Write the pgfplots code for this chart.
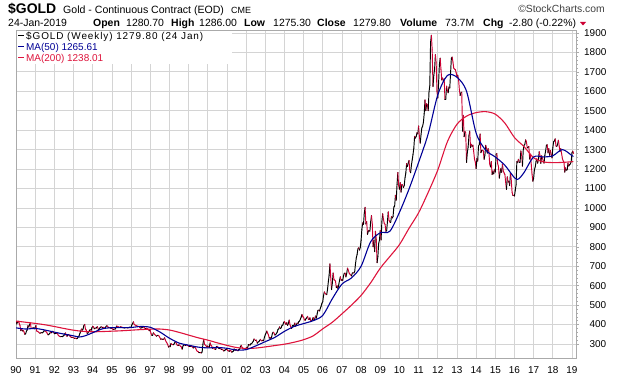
\documentclass[border=0pt]{standalone}
\usepackage{pgfplots}
\pgfplotsset{compat=1.18}
\usepackage{pgfplotstable}
\usepackage{fontspec}
\setmainfont{Liberation Sans}
\newfontfamily\legfont[LetterSpace=9]{Liberation Sans}
\definecolor{pricered}{RGB}{204,0,51}
\definecolor{mared}{RGB}{222,20,60}
\definecolor{manavy}{RGB}{0,0,150}
\definecolor{gridc}{RGB}{212,212,212}
\definecolor{axisc}{RGB}{170,170,170}

% semi-monthly gold closes, 1990.0 ... 2019 (24 values per year)
\pgfplotstableread[row sep=\\]{
p\\ 401\\
415\\ 408\\ 417\\ 407\\ 395\\ 368\\ 375\\ 367\\ 370\\ 363\\ 350\\ 352\\ 365\\ 372\\ 395\\ 387\\ 400\\ 408\\ 380\\ 380\\ 382\\ 384\\ 378\\ 386\\
395\\ 366\\ 365\\ 362\\ 358\\ 355\\ 358\\ 357\\ 357\\ 361\\ 367\\ 368\\ 365\\ 362\\ 356\\ 347\\ 349\\ 354\\ 359\\ 357\\ 361\\ 366\\ 361\\ 353\\
354\\ 354\\ 356\\ 353\\ 344\\ 341\\ 338\\ 337\\ 337\\ 337\\ 341\\ 343\\ 352\\ 357\\ 342\\ 340\\ 347\\ 349\\ 343\\ 339\\ 335\\ 334\\ 334\\ 333\\
329\\ 330\\ 329\\ 327\\ 330\\ 337\\ 342\\ 354\\ 366\\ 377\\ 371\\ 378\\ 395\\ 401\\ 375\\ 372\\ 355\\ 356\\ 364\\ 369\\ 375\\ 370\\ 383\\ 391\\
388\\ 378\\ 382\\ 381\\ 385\\ 389\\ 375\\ 376\\ 383\\ 387\\ 388\\ 386\\ 386\\ 385\\ 380\\ 385\\ 392\\ 394\\ 389\\ 384\\ 385\\ 383\\ 380\\ 383\\
376\\ 375\\ 377\\ 376\\ 383\\ 392\\ 391\\ 389\\ 386\\ 385\\ 389\\ 387\\ 386\\ 383\\ 385\\ 382\\ 384\\ 384\\ 385\\ 382\\ 385\\ 387\\ 387\\ 387\\
398\\ 405\\ 414\\ 400\\ 398\\ 396\\ 393\\ 392\\ 391\\ 391\\ 384\\ 382\\ 383\\ 385\\ 388\\ 387\\ 382\\ 379\\ 381\\ 379\\ 378\\ 372\\ 368\\ 369\\
355\\ 345\\ 345\\ 358\\ 352\\ 348\\ 343\\ 340\\ 345\\ 345\\ 341\\ 334\\ 325\\ 326\\ 324\\ 325\\ 324\\ 332\\ 320\\ 311\\ 305\\ 296\\ 284\\ 290\\
286\\ 303\\ 298\\ 297\\ 296\\ 301\\ 309\\ 310\\ 300\\ 293\\ 292\\ 296\\ 293\\ 288\\ 285\\ 273\\ 290\\ 293\\ 296\\ 292\\ 296\\ 294\\ 292\\ 288\\
287\\ 287\\ 289\\ 287\\ 284\\ 279\\ 283\\ 286\\ 277\\ 268\\ 262\\ 261\\ 255\\ 255\\ 256\\ 254\\ 259\\ 299\\ 324\\ 299\\ 294\\ 291\\ 283\\ 290\\
285\\ 283\\ 306\\ 293\\ 290\\ 278\\ 283\\ 275\\ 274\\ 272\\ 287\\ 288\\ 283\\ 276\\ 276\\ 277\\ 272\\ 273\\ 270\\ 264\\ 266\\ 270\\ 272\\ 272\\
266\\ 265\\ 262\\ 267\\ 265\\ 258\\ 260\\ 263\\ 275\\ 267\\ 270\\ 270\\ 266\\ 265\\ 272\\ 273\\ 287\\ 293\\ 282\\ 279\\ 275\\ 275\\ 276\\ 278\\
283\\ 282\\ 296\\ 296\\ 294\\ 301\\ 302\\ 308\\ 314\\ 326\\ 321\\ 318\\ 320\\ 304\\ 310\\ 312\\ 318\\ 324\\ 317\\ 316\\ 320\\ 317\\ 335\\ 347\\
356\\ 367\\ 356\\ 347\\ 330\\ 334\\ 328\\ 336\\ 355\\ 361\\ 356\\ 346\\ 348\\ 354\\ 361\\ 375\\ 378\\ 388\\ 379\\ 384\\ 396\\ 397\\ 410\\ 416\\
407\\ 400\\ 410\\ 396\\ 407\\ 423\\ 399\\ 388\\ 380\\ 393\\ 393\\ 395\\ 408\\ 391\\ 400\\ 408\\ 405\\ 415\\ 418\\ 428\\ 438\\ 452\\ 440\\ 438\\
424\\ 422\\ 430\\ 435\\ 442\\ 427\\ 426\\ 435\\ 420\\ 417\\ 425\\ 436\\ 422\\ 429\\ 444\\ 433\\ 455\\ 473\\ 474\\ 470\\ 484\\ 495\\ 510\\ 517\\
550\\ 568\\ 560\\ 556\\ 554\\ 582\\ 620\\ 654\\ 712\\ 643\\ 580\\ 613\\ 665\\ 632\\ 628\\ 623\\ 590\\ 599\\ 585\\ 604\\ 627\\ 646\\ 627\\ 632\\
627\\ 650\\ 665\\ 665\\ 645\\ 663\\ 690\\ 680\\ 665\\ 659\\ 655\\ 650\\ 665\\ 666\\ 665\\ 673\\ 712\\ 743\\ 760\\ 789\\ 795\\ 783\\ 797\\ 834\\
890\\ 923\\ 915\\ 972\\ 1003\\ 917\\ 930\\ 864\\ 880\\ 885\\ 880\\ 928\\ 960\\ 918\\ 800\\ 834\\ 775\\ 880\\ 840\\ 718\\ 750\\ 816\\ 835\\ 884\\
835\\ 928\\ 970\\ 942\\ 920\\ 916\\ 880\\ 883\\ 930\\ 980\\ 935\\ 927\\ 925\\ 955\\ 948\\ 955\\ 1005\\ 1008\\ 1065\\ 1040\\ 1120\\ 1182\\ 1115\\ 1096\\
1130\\ 1081\\ 1120\\ 1118\\ 1105\\ 1115\\ 1155\\ 1180\\ 1228\\ 1213\\ 1230\\ 1244\\ 1190\\ 1181\\ 1220\\ 1247\\ 1275\\ 1307\\ 1368\\ 1359\\ 1368\\ 1387\\ 1380\\ 1421\\
1367\\ 1333\\ 1375\\ 1411\\ 1420\\ 1439\\ 1485\\ 1556\\ 1500\\ 1536\\ 1530\\ 1500\\ 1595\\ 1628\\ 1852\\ 1888\\ 1813\\ 1624\\ 1680\\ 1714\\ 1788\\ 1746\\ 1598\\ 1565\\
1640\\ 1737\\ 1770\\ 1711\\ 1658\\ 1668\\ 1650\\ 1664\\ 1558\\ 1558\\ 1626\\ 1604\\ 1592\\ 1622\\ 1616\\ 1692\\ 1770\\ 1776\\ 1750\\ 1719\\ 1714\\ 1711\\ 1696\\ 1675\\
1683\\ 1663\\ 1609\\ 1578\\ 1592\\ 1595\\ 1395\\ 1476\\ 1366\\ 1393\\ 1386\\ 1234\\ 1285\\ 1313\\ 1370\\ 1395\\ 1310\\ 1327\\ 1316\\ 1323\\ 1288\\ 1250\\ 1235\\ 1202\\
1254\\ 1240\\ 1318\\ 1326\\ 1380\\ 1284\\ 1295\\ 1296\\ 1293\\ 1250\\ 1272\\ 1322\\ 1307\\ 1282\\ 1305\\ 1287\\ 1226\\ 1211\\ 1238\\ 1172\\ 1190\\ 1175\\ 1196\\ 1184\\
1277\\ 1279\\ 1227\\ 1213\\ 1153\\ 1183\\ 1203\\ 1183\\ 1225\\ 1190\\ 1180\\ 1172\\ 1131\\ 1095\\ 1160\\ 1132\\ 1138\\ 1115\\ 1180\\ 1142\\ 1081\\ 1065\\ 1065\\ 1061\\
1090\\ 1118\\ 1239\\ 1234\\ 1250\\ 1234\\ 1235\\ 1293\\ 1273\\ 1215\\ 1298\\ 1322\\ 1327\\ 1350\\ 1340\\ 1309\\ 1310\\ 1316\\ 1251\\ 1276\\ 1224\\ 1174\\ 1137\\ 1152\\
1197\\ 1211\\ 1238\\ 1253\\ 1230\\ 1249\\ 1289\\ 1269\\ 1229\\ 1268\\ 1257\\ 1242\\ 1230\\ 1270\\ 1293\\ 1322\\ 1325\\ 1283\\ 1305\\ 1271\\ 1295\\ 1275\\ 1257\\ 1309\\
1340\\ 1345\\ 1355\\ 1318\\ 1316\\ 1327\\ 1348\\ 1318\\ 1290\\ 1305\\ 1279\\ 1254\\ 1242\\ 1233\\ 1184\\ 1206\\ 1194\\ 1196\\ 1229\\ 1215\\ 1223\\ 1226\\ 1238\\ 1283\\
1292\\ 1280\\
}\price

\pgfplotstablecreatecol[create col/assign/.code={%
  \getthisrow{p}\pcur
  \getnextrow{p}\pnext
  \ifx\pnext\empty
    \def\entry{0}%
  \else
    \pgfmathparse{\pnext<\pcur ? 1 : 0}%
    \let\entry\pgfmathresult
  \fi
  \pgfkeyslet{/pgfplots/table/create col/next content}\entry
}]{dn}\price

\begin{document}
\begin{tikzpicture}
\useasboundingbox (0bp,0bp) rectangle (620bp,376bp);
\begin{scope}[shift={(16bp,18bp)}]
\begin{axis}[
  at={(0pt,0pt)}, anchor=origin, scale only axis,
  width=560bp, height=328bp,
  xmin=1990, xmax=2019.21, ymin=228, ymax=1915,
  xtick={1990,1991,...,2019},
  xticklabels={90,91,92,93,94,95,96,97,98,99,00,01,02,03,04,05,06,07,08,09,10,11,12,13,14,15,16,17,18,19},
  ytick={300,400,...,1900},
  yticklabels={300,400,500,600,700,800,900,1000,1100,1200,1300,1400,1500,1600,1700,1800,1900},
  minor y tick num=4,
  ytick pos=right, xtick pos=bottom,
  xtick style={draw=none},
  ytick style={draw=axisc, line width=0.5bp},
  tick align=outside,
  major tick length=3bp, minor tick length=1.5bp,
  grid=major,
  major grid style={draw=gridc, line width=0.7bp},
  axis line style={draw=axisc, line width=0.7bp},
  /pgf/number format/assume math mode=true,
  ticklabel style={font=\fontsize{10}{12}\selectfont, text=black},
  xticklabel style={anchor=base, inner sep=0pt, yshift=-12bp},
  yticklabel style={anchor=west, text width=22bp, align=right, inner sep=0pt, xshift=5bp},
]
\addplot[mesh, shader=flat corner, point meta=\thisrow{dn}, point meta min=0, point meta max=1,
  colormap={updown}{color=(black) color=(pricered)}, line width=0.95bp, line join=round, line cap=round]
  table[x expr={1990+\coordindex/24}, y=p] {\price};
\addplot[mared, line width=1.1bp, smooth, tension=0.5] coordinates {
(1990.0,418) (1990.5,412) (1991.0,406) (1991.5,399) (1992.0,390) (1992.5,380) (1993.0,371)
(1993.5,365) (1994.0,363) (1994.5,364) (1995.0,366) (1995.5,368) (1996.0,371) (1996.5,374)
(1997.0,376) (1997.5,377) (1998.0,372) (1998.5,360) (1999.0,346) (1999.5,332) (2000.0,320)
(2000.5,306) (2001.0,293) (2001.5,282) (2002.0,277) (2002.5,279) (2003.0,285) (2003.5,292)
(2004.0,299) (2004.5,309) (2005.0,322) (2005.5,342) (2006.0,378) (2006.5,412) (2007.0,455)
(2007.5,500) (2008.0,550) (2008.5,615) (2009.0,690) (2009.5,750) (2010.0,811) (2010.5,895)
(2011.0,975) (2011.5,1080) (2012.0,1195) (2012.5,1340) (2013.0,1430) (2013.5,1472) (2014.0,1490)
(2014.5,1495) (2015.0,1482) (2015.5,1436) (2016.0,1362) (2016.5,1315) (2017.0,1258) (2017.5,1237)
(2018.0,1233) (2018.5,1234) (2019.07,1238)
};
\addplot[manavy, line width=1.1bp, smooth, tension=0.5] coordinates {
(1990.0,383) (1990.5,377) (1991.0,380) (1991.5,372) (1992.0,361) (1992.5,351) (1993.0,342)
(1993.3,336) (1993.6,342) (1994.0,358) (1994.5,378) (1995.0,384) (1995.5,384) (1996.0,385)
(1996.5,390) (1997.0,386) (1997.5,362) (1998.0,330) (1998.5,305) (1999.0,294) (1999.5,284)
(2000.0,280) (2000.5,282) (2001.0,278) (2001.5,269) (2002.0,271) (2002.5,290) (2003.0,312)
(2003.5,334) (2004.0,365) (2004.5,390) (2005.0,405) (2005.5,420) (2006.0,447) (2006.5,533)
(2007.0,608) (2007.5,640) (2008.0,700) (2008.5,826) (2009.0,872) (2009.5,880) (2010.0,977)
(2010.5,1097) (2011.0,1234) (2011.5,1381) (2012.0,1581) (2012.5,1681) (2013.0,1672) (2013.5,1600)
(2014.0,1385) (2014.5,1297) (2015.0,1262) (2015.5,1219) (2016.0,1155) (2016.2,1148) (2016.5,1182)
(2017.0,1262) (2017.5,1262) (2018.0,1268) (2018.5,1300) (2019.0,1269) (2019.065,1266)
};
\end{axis}
\end{scope}
\begin{scope}[x=1bp,y=1bp]
% legend
\fill[white] (16.6,345.4) rectangle (232,312);
\draw[black, line width=1.4bp] (18,340.2) -- (24,340.2);
\node[anchor=base west, inner sep=0pt, font=\legfont\fontsize{10}{12}\selectfont] at (26,337) {\$GOLD (Weekly) 1279.80 (24 Jan)};
\draw[manavy, line width=1.4bp] (18,329.5) -- (24,329.5);
\node[anchor=base west, inner sep=0pt, text=manavy, font=\fontsize{10}{12}\selectfont] at (26,326) {MA(50) 1265.61};
\draw[mared, line width=1.4bp] (18,318.5) -- (24,318.5);
\node[anchor=base west, inner sep=0pt, text=mared, font=\fontsize{10}{12}\selectfont] at (26,315) {MA(200) 1238.01};
% title lines
\node[anchor=base west, inner sep=0pt, font=\fontsize{14}{16}\selectfont\bfseries] at (8,362.5) {\$GOLD};
\node[anchor=base west, inner sep=0pt, font=\fontsize{10.6}{12}\selectfont] at (63,363) {Gold - Continuous Contract (EOD)};
\node[anchor=base west, inner sep=0pt, font=\fontsize{9}{11}\selectfont] at (231,363) {CME};
\node[anchor=base east, inner sep=0pt, font=\fontsize{10.4}{12}\selectfont, text=black!75] at (605,363.7) {©StockCharts.com};
\begin{scope}[every node/.style={anchor=base west, inner sep=0pt, font=\fontsize{10.5}{12}\selectfont}]
\node at (8,350) {24-Jan-2019};
\node[font=\fontsize{10.5}{12}\selectfont\bfseries] at (93,350) {Open};
\node at (126,350) {1280.70};
\node[font=\fontsize{10.5}{12}\selectfont\bfseries] at (171,350) {High};
\node at (199,350) {1286.00};
\node[font=\fontsize{10.5}{12}\selectfont\bfseries] at (244,350) {Low};
\node at (273,350) {1275.30};
\node[font=\fontsize{10.5}{12}\selectfont\bfseries] at (317,350) {Close};
\node at (353,350) {1279.80};
\node[font=\fontsize{10.5}{12}\selectfont\bfseries] at (400,350) {Volume};
\node at (445,350) {73.7M};
\node[font=\fontsize{10.5}{12}\selectfont\bfseries] at (483,350) {Chg};
\node at (509,350) {-2.80 (-0.22\%)};
\end{scope}
\fill[pricered] (580,354) -- (586,354) -- (583,350.5) -- cycle;
\end{scope}
\end{tikzpicture}
\end{document}
